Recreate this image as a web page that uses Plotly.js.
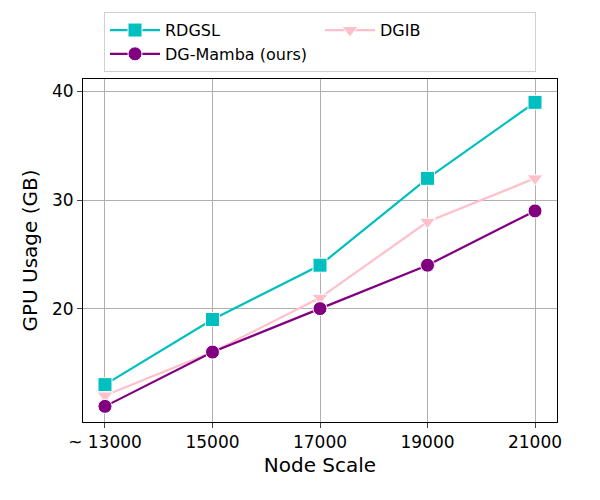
<!DOCTYPE html>
<html><head><script src="https://cdn.plot.ly/plotly-3.0.1.min.js"></script></head>
<body style="margin:0"><div id="c" style="width:600px;height:500px"></div>
<script>
const nodeScale = [13000, 15000, 17000, 19000, 21000];
const tickLabels = ["~ 13000", "15000", "17000", "19000", "21000"];
const rdgsl = [13, 19, 24, 32, 39];
const dgib = [12, 16, 21, 28, 32];
const dgMamba = [11, 16, 20, 24, 29];
function tr(name, y, color, sym) {
  return {x: nodeScale, y: y, name: name, type: 'scatter', mode: 'lines+markers',
    line: {color: color, width: 2.2}, marker: {symbol: sym, size: 14, color: color, line: {color: 'white', width: 1}}};
}
Plotly.newPlot('c', [
  tr('RDGSL', rdgsl, '#00BFBF', 'square'),
  tr('DGIB', dgib, '#FFC0CB', 'triangle-down'),
  tr('DG-Mamba (ours)', dgMamba, '#800080', 'circle')
], {
  width: 600, height: 500, paper_bgcolor: 'white', plot_bgcolor: 'white',
  margin: {l: 83, r: 43, t: 65, b: 78},
  font: {family: 'DejaVu Sans', size: 17, color: 'black'},
  xaxis: {range: [12591, 21409], tickvals: nodeScale, ticktext: tickLabels, showgrid: true, gridcolor: '#b0b0b0',
    showline: true, mirror: true, linecolor: 'black', ticks: 'outside', ticklen: 5, zeroline: false,
    title: {text: 'Node Scale', font: {size: 20}, standoff: 6}},
  yaxis: {range: [9.56, 41.15], tickvals: [20, 30, 40], showgrid: true, gridcolor: '#b0b0b0',
    showline: true, mirror: true, linecolor: 'black', ticks: 'outside', ticklen: 5, zeroline: false,
    title: {text: 'GPU Usage (GB)', font: {size: 20}, standoff: 8}},
  legend: {orientation: 'h', x: 0.5, xanchor: 'center', y: 1.02, yanchor: 'bottom',
    entrywidth: 150, itemwidth: 50,
    bordercolor: '#d0d0d0', borderwidth: 1, font: {size: 16}}
}, {displayModeBar: false});
</script></body></html>
